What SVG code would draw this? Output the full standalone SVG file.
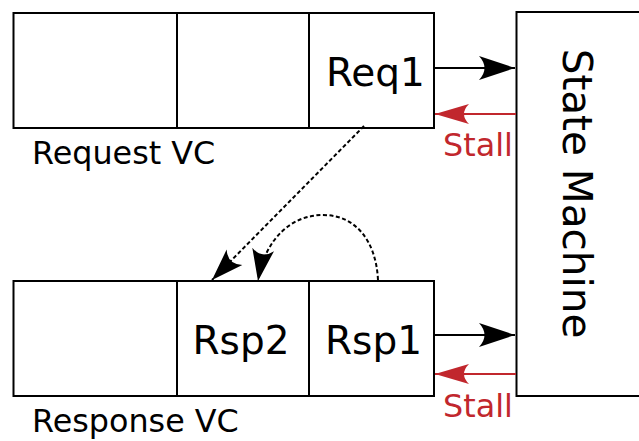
<svg xmlns="http://www.w3.org/2000/svg" width="639" height="441" viewBox="0 0 639 441">
<style>
.box{fill:#fff;stroke:#000;stroke-width:2}
.div{stroke:#000;stroke-width:2}
.t{font-family:"DejaVu Sans",sans-serif;fill:#000}
.cell{font-size:39px}
.lbl{font-size:31.8px}
.red{fill:#c1272d}
.arr{stroke:#000;stroke-width:2;fill:none}
.rarr{stroke:#c1272d;stroke-width:2;fill:none}
.dash{stroke:#000;stroke-width:2;fill:none;stroke-dasharray:4 2.5}
</style>
<defs>
<marker id="ah" markerUnits="userSpaceOnUse" viewBox="-37 -13 38 26" refX="0" refY="0" markerWidth="38" markerHeight="26" orient="auto">
<path d="M0,0 L-36,-12 Q-25,0 -36,12 Z" fill="#000"/>
</marker>
<marker id="rah" markerUnits="userSpaceOnUse" viewBox="-37 -13 38 26" refX="0" refY="0" markerWidth="38" markerHeight="26" orient="auto">
<path d="M0,0 L-34,-10 Q-24,0 -34,10 Z" fill="#c1272d"/>
</marker>
<marker id="dah" markerUnits="userSpaceOnUse" viewBox="-32 -13 33 26" refX="0" refY="0" markerWidth="33" markerHeight="26" orient="auto">
<path d="M0,0 L-32,-11 Q-22,0 -32,11 Z" fill="#000"/>
</marker>
</defs>
<g id="request-vc">
<rect class="box" x="13.5" y="13" width="420.5" height="115"/>
<line class="div" x1="177" y1="13" x2="177" y2="128"/>
<line class="div" x1="309" y1="13" x2="309" y2="128"/>
<text class="t cell" x="326" y="86">Req1</text>
<text class="t lbl" x="32" y="164">Request VC</text>
</g>
<g id="response-vc">
<rect class="box" x="13.5" y="281" width="420.5" height="115"/>
<line class="div" x1="177" y1="281" x2="177" y2="396"/>
<line class="div" x1="309" y1="281" x2="309" y2="396"/>
<text class="t cell" x="192.5" y="354">Rsp2</text>
<text class="t cell" x="325" y="354">Rsp1</text>
<text class="t lbl" x="32" y="432">Response VC</text>
</g>
<g id="state-machine">
<rect class="box" x="516.5" y="12" width="130" height="384"/>
<text class="t" font-size="40.5" text-anchor="middle" transform="translate(563,193.5) rotate(90)">State Machine</text>
</g>
<g id="connectors">
<line class="arr" x1="434" y1="68" x2="515" y2="68" marker-end="url(#ah)"/>
<line class="rarr" x1="516" y1="114" x2="435" y2="114" marker-end="url(#rah)"/>
<text class="t lbl red" x="443" y="156">Stall</text>
<line class="arr" x1="434" y1="335" x2="515" y2="335" marker-end="url(#ah)"/>
<line class="rarr" x1="516" y1="374" x2="435" y2="374" marker-end="url(#rah)"/>
<text class="t lbl red" x="443" y="417">Stall</text>
<line class="dash" x1="364" y1="126" x2="212" y2="280" marker-end="url(#dah)"/>
<path class="dash" d="M378,280 C376,240 355,215 323,215 C292,215 265,238 258,281" marker-end="url(#dah)"/>
</g>
</svg>
